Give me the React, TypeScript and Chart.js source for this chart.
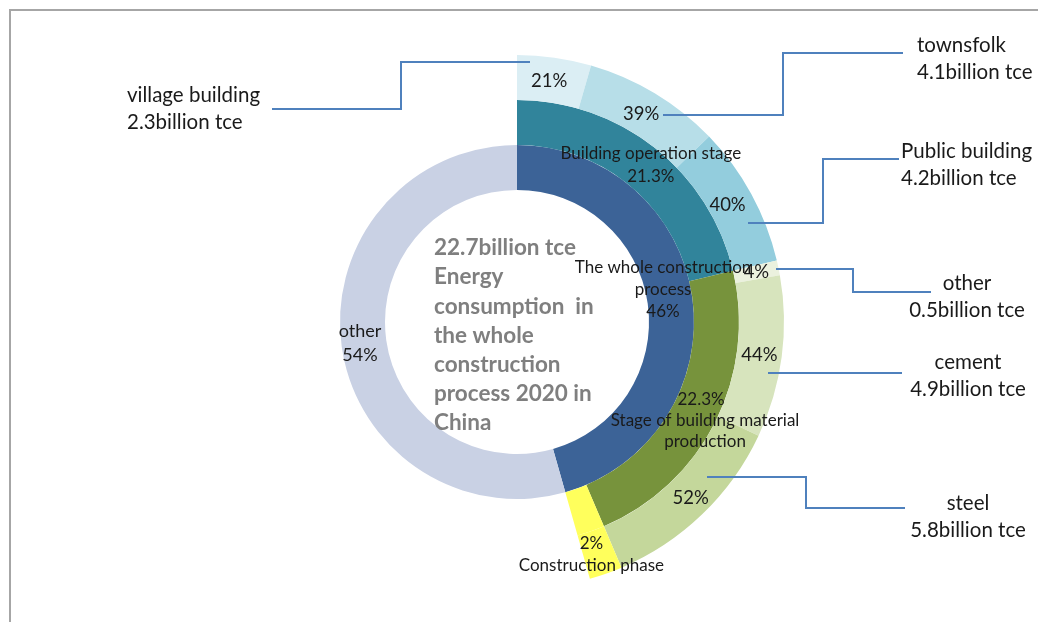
import React, { useEffect, useRef } from "react";
import { Chart, registerables } from "chart.js";

Chart.register(...registerables);

// ---- data ----
const wholeLabels = ["The whole construction process", "other"];
const wholeShares = [45.6, 54.4]; // % of 22.7 billion tce
const wholeShareText = ["46%", "54%"];

const stageLabels = ["Building operation stage", "Stage of building material production", "Construction phase"];
const stageShares = [21.3, 22.3, 2.0];
const stageShareText = ["21.3%", "22.3%", "2%"];

const operationLabels = ["village building", "townsfolk", "Public building"];
const operationSplit = [21, 39, 40]; // % of building operation stage
const operationValues = ["2.3billion tce", "4.1billion tce", "4.2billion tce"];

const materialLabels = ["other", "cement", "steel"];
const materialSplit = [4, 44, 52]; // % of building material production
const materialValues = ["0.5billion tce", "4.9billion tce", "5.8billion tce"];

const centerTitle = ["22.7billion tce", "Energy", "consumption  in", "the whole", "construction", "process 2020 in", "China"];

// ---- colours ----
const wholeColors = ["#3c6397", "#c9d1e4"];
const stageColors = ["#31849b", "#77933c", "#ffff5c"];
const operationColors = ["#dbeef4", "#b7dee8", "#93cddd"];
const materialColors = ["#ebf1de", "#d7e4bd", "#c4d79b"];
const leaderColor = "#4f81bd";
const FONT = 'Lato, "Open Sans", sans-serif';

const restOfCircle = 100 - stageShares.reduce((a, b) => a + b, 0);

const outerData = [
  ...operationSplit.map((p) => (p * stageShares[0]) / 100),
  ...materialSplit.map((p) => (p * stageShares[1]) / 100),
  stageShares[2],
  restOfCircle,
];
const outerColors = [...operationColors, ...materialColors, stageColors[2], "rgba(0,0,0,0)"];
const middleData = [...stageShares, restOfCircle];
const middleColors = [...stageColors, "rgba(0,0,0,0)"];

// segment labels: dataset index, element index, text lines, font size, offsets
const segmentLabels = [
  { ds: 0, i: 0, lines: [`${operationSplit[0]}%`], size: 18.5, dx: -2, dy: 1 },
  { ds: 0, i: 1, lines: [`${operationSplit[1]}%`], size: 18.5, dx: -2, dy: 1 },
  { ds: 0, i: 2, lines: [`${operationSplit[2]}%`], size: 18.5, dx: -4, dy: 0 },
  { ds: 0, i: 3, lines: [`${materialSplit[0]}%`], size: 18.5, dx: 0, dy: 0 },
  { ds: 0, i: 4, lines: [`${materialSplit[1]}%`], size: 18.5, dx: 0, dy: 1 },
  { ds: 0, i: 5, lines: [`${materialSplit[2]}%`], size: 18.5, dx: 4, dy: 0 },
  { ds: 0, i: 6, lines: [stageShareText[2], stageLabels[2]], size: 17, dx: -7, dy: 2, lh: 22 },
  { ds: 1, i: 0, lines: [stageLabels[0], stageShareText[0]], size: 17, dx: 10, dy: -1, lh: 23 },
  { ds: 1, i: 1, lines: [stageShareText[1], "Stage of building material", "production"], size: 17, dx: 10, dy: 9, lh: 21, firstDx: -4 },
  { ds: 2, i: 0, lines: ["The whole construction", "process", wholeShareText[0]], size: 17, dx: -7, dy: -11, lh: 22 },
  { ds: 2, i: 1, lines: [wholeLabels[1], wholeShareText[1]], size: 18, dx: -4, dy: 0, lh: 24 },
];

// callouts, relative to chart centre
const callouts = [
  { path: [[-245, -213], [-116, -213], [-116, -260], [13, -260]], text: [operationLabels[0], operationValues[0]], x: -390, y: -227, align: "left" },
  { path: [[146, -207], [266, -207], [266, -269], [386, -269]], text: [operationLabels[1], operationValues[1]], x: 400, y: -277, align: "left" },
  { path: [[231, -99], [306, -99], [306, -163], [382, -163]], text: [operationLabels[2], operationValues[2]], x: 384, y: -171, align: "left" },
  { path: [[259, -53], [336, -53], [336, -30], [414, -30]], text: [materialLabels[0], materialValues[0]], x: 450, y: -39, align: "center" },
  { path: [[251, 51], [385, 51]], text: [materialLabels[1], materialValues[1]], x: 451, y: 40, align: "center" },
  { path: [[190, 155], [289, 155], [289, 186], [388, 186]], text: [materialLabels[2], materialValues[2]], x: 451, y: 181, align: "center" },
];

const annotationPlugin = {
  id: "annotations",
  beforeDraw(chart: any) {
    const ctx = chart.ctx;
    ctx.save();
    ctx.strokeStyle = "#a6a6a6";
    ctx.lineWidth = 2;
    ctx.beginPath();
    ctx.moveTo(10, chart.height);
    ctx.lineTo(10, 10);
    ctx.lineTo(chart.width, 10);
    ctx.stroke();
    ctx.restore();
  },
  afterDraw(chart: any) {
    const ctx = chart.ctx;
    const area = chart.chartArea;
    const cx = (area.left + area.right) / 2;
    const cy = (area.top + area.bottom) / 2;
    ctx.save();
    ctx.textBaseline = "middle";

    // segment labels
    ctx.fillStyle = "#1a1a1a";
    for (const s of segmentLabels) {
      const arc = chart.getDatasetMeta(s.ds).data[s.i];
      if (!arc) continue;
      const p = arc.getCenterPoint();
      const lh = (s as any).lh || 22;
      ctx.font = `${s.size}px ${FONT}`;
      ctx.textAlign = "center";
      const n = s.lines.length;
      s.lines.forEach((t, k) => {
        const extra = k === 0 && (s as any).firstDx ? (s as any).firstDx : 0;
        ctx.fillText(t, p.x + s.dx + extra, p.y + s.dy + (k - (n - 1) / 2) * lh);
      });
    }

    // centre title
    ctx.fillStyle = "#7f7f7f";
    ctx.font = `bold 22.5px ${FONT}`;
    ctx.textAlign = "left";
    centerTitle.forEach((t, k) => ctx.fillText(t, cx - 83, cy - 74 + k * 29.2));

    // callouts
    ctx.strokeStyle = leaderColor;
    ctx.lineWidth = 2;
    for (const c of callouts) {
      ctx.beginPath();
      c.path.forEach(([x, y], k) => (k === 0 ? ctx.moveTo(cx + x, cy + y) : ctx.lineTo(cx + x, cy + y)));
      ctx.stroke();
      ctx.fillStyle = "#1a1a1a";
      ctx.font = `20.5px ${FONT}`;
      ctx.textAlign = c.align;
      c.text.forEach((t, k) => ctx.fillText(t, cx + c.x, cy + c.y + k * 27));
    }
    ctx.restore();
  },
};

export default function App() {
  const ref = useRef<HTMLCanvasElement>(null);
  useEffect(() => {
    if (!ref.current) return;
    const chart = new Chart(ref.current, {
      type: "doughnut",
      data: {
        labels: [...operationLabels, ...materialLabels, stageLabels[2], ""],
        datasets: [
          { data: outerData, backgroundColor: outerColors, borderWidth: 0 },
          { data: middleData, backgroundColor: middleColors, borderWidth: 0 },
          { data: wholeShares, backgroundColor: wholeColors, borderWidth: 0 },
        ],
      },
      options: {
        animation: false,
        responsive: true,
        maintainAspectRatio: false,
        radius: 267,
        cutout: "49.44%",
        layout: { padding: { top: 22, right: 4, left: 0, bottom: 0 } },
        plugins: { legend: { display: false }, tooltip: { enabled: false } },
      },
      plugins: [annotationPlugin],
    } as any);
    return () => chart.destroy();
  }, []);
  return (
    <div style={{ position: "fixed", left: 0, top: 0, width: 1038, height: 622, background: "#fff" }}>
      <canvas ref={ref} />
    </div>
  );
}
